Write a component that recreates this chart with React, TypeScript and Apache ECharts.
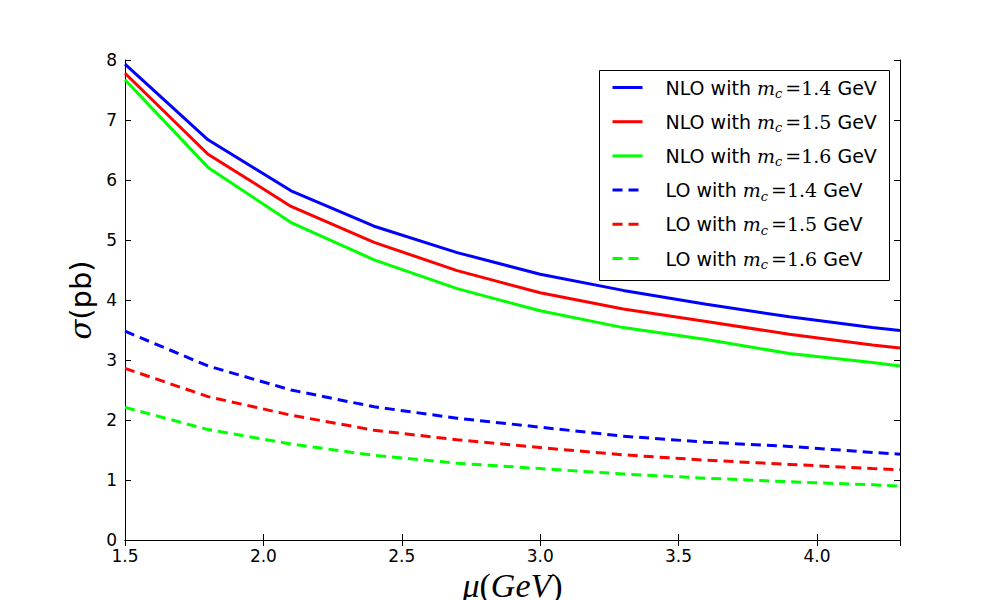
import React, { useEffect, useRef } from "react";
import * as echarts from "echarts";

const mu = [1.5, 1.8, 2.1, 2.4, 2.7, 3.0, 3.3, 3.6, 3.9, 4.2, 4.3];
const nlo14 = [7.93, 6.67, 5.82, 5.23, 4.79, 4.43, 4.16, 3.93, 3.72, 3.54, 3.49];
const nlo15 = [7.78, 6.43, 5.56, 4.96, 4.49, 4.12, 3.85, 3.64, 3.43, 3.25, 3.2];
const nlo16 = [7.67, 6.21, 5.29, 4.67, 4.19, 3.82, 3.54, 3.34, 3.11, 2.96, 2.9];
const lo14 = [3.48, 2.9, 2.5, 2.22, 2.03, 1.88, 1.73, 1.63, 1.56, 1.46, 1.43];
const lo15 = [2.86, 2.39, 2.08, 1.83, 1.67, 1.54, 1.42, 1.33, 1.26, 1.19, 1.17];
const lo16 = [2.21, 1.84, 1.6, 1.41, 1.28, 1.19, 1.1, 1.03, 0.97, 0.92, 0.9];

const DASH = [10, 6];

const seriesDefs = [
  { name: "NLO 1.4", order: "NLO", mass: "1.4", data: nlo14, color: "#0000ff", dashed: false },
  { name: "NLO 1.5", order: "NLO", mass: "1.5", data: nlo15, color: "#ff0000", dashed: false },
  { name: "NLO 1.6", order: "NLO", mass: "1.6", data: nlo16, color: "#00ff00", dashed: false },
  { name: "LO 1.4", order: "LO", mass: "1.4", data: lo14, color: "#0000ff", dashed: true },
  { name: "LO 1.5", order: "LO", mass: "1.5", data: lo15, color: "#ff0000", dashed: true },
  { name: "LO 1.6", order: "LO", mass: "1.6", data: lo16, color: "#00ff00", dashed: true },
];

const SANS = "DejaVu Sans";
const SERIF = "DejaVu Serif";

export default function App() {
  const ref = useRef<HTMLDivElement>(null);
  useEffect(() => {
    if (!ref.current) return;
    const chart = echarts.init(ref.current, undefined, { renderer: "svg" });
    const left = 125, right = 100, top = 60, bottom = 60;
    const axisLine = { show: true, lineStyle: { color: "#000", width: 1 } };
    const tick = { show: true, inside: true, length: 6, lineStyle: { color: "#000", width: 1 } };
    chart.setOption({
      animation: false,
      backgroundColor: "#fff",
      grid: { left, right, top, bottom, containLabel: false, outerBoundsMode: "none" },
      xAxis: [
        {
          type: "value",
          min: 1.5,
          max: 4.3,
          interval: 0.5,
          position: "bottom",
          axisLine,
          axisTick: tick,
          splitLine: { show: false },
          axisLabel: {
            showMaxLabel: false,
            margin: 7,
            fontFamily: SANS,
            fontSize: 17,
            color: "#000",
            formatter: (v: number) => v.toFixed(1),
          },
          name: "{i|μ}{u|(}{i|GeV}{u|)}",
          nameLocation: "middle",
          nameGap: 27,
          nameTextStyle: {
            rich: {
              i: { fontFamily: "Liberation Serif", fontStyle: "italic", fontSize: 34, color: "#000" },
              u: { fontFamily: "Liberation Serif", fontSize: 34, color: "#000" },
            },
          },
        },
        {
          type: "value",
          min: 1.5,
          max: 4.3,
          interval: 0.5,
          position: "top",
          axisLine,
          axisTick: tick,
          axisLabel: { show: false },
          splitLine: { show: false },
        },
      ],
      yAxis: [
        {
          type: "value",
          min: 0,
          max: 8,
          interval: 1,
          position: "left",
          axisLine,
          axisTick: tick,
          splitLine: { show: false },
          axisLabel: { margin: 8, fontFamily: SANS, fontSize: 17, color: "#000" },
          name: "{s|σ}{p|(pb)}",
          nameLocation: "middle",
          nameRotate: 90,
          nameGap: 29,
          nameTextStyle: {
            rich: {
              s: { fontFamily: SERIF, fontStyle: "italic", fontSize: 29, color: "#000" },
              p: { fontFamily: SANS, fontSize: 29, color: "#000" },
            },
          },
        },
        {
          type: "value",
          min: 0,
          max: 8,
          interval: 1,
          position: "right",
          axisLine,
          axisTick: tick,
          axisLabel: { show: false },
          splitLine: { show: false },
        },
      ],
      legend: {
        orient: "vertical",
        left: 611,
        top: 75,
        itemWidth: 30,
        itemHeight: 20,
        itemGap: 9.2,
        padding: 0,
        itemStyle: { opacity: 0 },
        data: seriesDefs.map((s) => ({
          name: s.name,
          itemStyle: { opacity: 0 },
          lineStyle: { color: s.color, width: 3, type: s.dashed ? DASH : "solid" },
        })),
        formatter: (name: string) => {
          const d = seriesDefs.find((s) => s.name === name)!;
          return `{t|${d.order} with }{m|m}{c|c}{n|=${d.mass}}{t| GeV}`;
        },
        textStyle: {
          padding: [0, 0, 0, 18],
          rich: {
            t: { fontFamily: SANS, fontSize: 19, color: "#000", lineHeight: 20 },
            m: { fontFamily: SERIF, fontStyle: "italic", fontSize: 19, color: "#000", lineHeight: 20 },
            c: { fontFamily: SERIF, fontStyle: "italic", fontSize: 13, color: "#000", lineHeight: 8, padding: [12, 0, 0, 0] },
            n: { fontFamily: SERIF, fontSize: 19, color: "#000", lineHeight: 20, padding: [0, 0, 0, 3] },
          },
        },
      },
      graphic: [
        {
          type: "rect",
          shape: { x: 599.5, y: 70.5, width: 290, height: 210 },
          style: { fill: "none", stroke: "#000", lineWidth: 1 },
          z: 100,
          silent: true,
        },
      ],
      series: seriesDefs.map((s) => ({
        type: "line",
        name: s.name,
        data: mu.map((x, i) => [x, s.data[i]]),
        showSymbol: false,
        symbol: "none",
        color: s.color,
        lineStyle: { color: s.color, width: 3, type: s.dashed ? DASH : "solid" },
        clip: true,
      })),
    });
    return () => chart.dispose();
  }, []);
  return <div ref={ref} style={{ position: "fixed", left: 0, top: 0, width: 1000, height: 600 }} />;
}
